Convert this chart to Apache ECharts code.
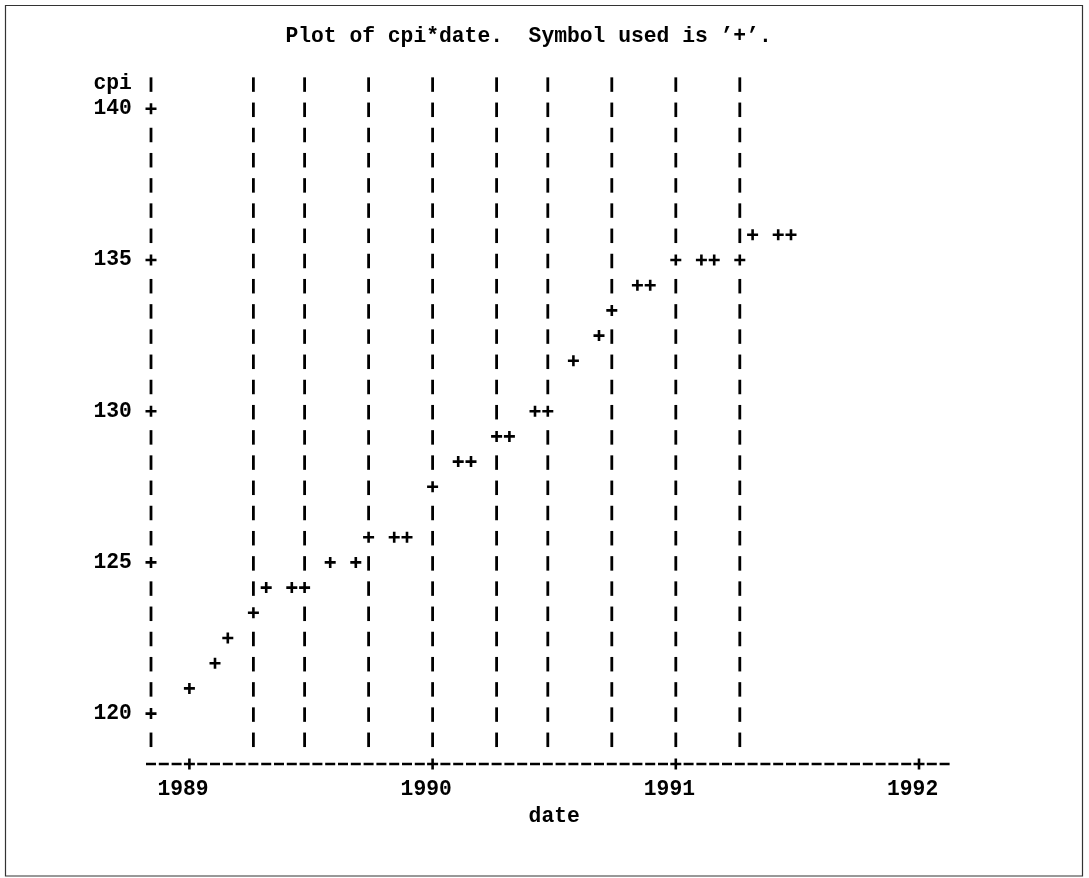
<!DOCTYPE html>
<html>
<head>
<meta charset="utf-8">
<script src="https://cdn.jsdelivr.net/npm/echarts@6/dist/echarts.min.js"></script>
<style>
  html, body { margin: 0; padding: 0; background: #fff; }
  #chart { width: 1089px; height: 878px; }
</style>
</head>
<body>
<div id="chart"></div>
<script>
// Monthly consumer price index
const months = [
  '1989-01', '1989-02', '1989-03', '1989-04', '1989-05', '1989-06',
  '1989-07', '1989-08', '1989-09', '1989-10', '1989-11', '1989-12',
  '1990-01', '1990-02', '1990-03', '1990-04', '1990-05', '1990-06',
  '1990-07', '1990-08', '1990-09', '1990-10', '1990-11', '1990-12',
  '1991-01', '1991-02', '1991-03', '1991-04', '1991-05', '1991-06',
  '1991-07'
];
const cpi = [
  121.1, 121.6, 122.3, 123.1, 123.8, 124.1,
  124.4, 124.6, 125.0, 125.6, 125.9, 126.1,
  127.4, 128.0, 128.7, 128.9, 129.2, 129.9,
  130.4, 131.6, 132.7, 133.5, 133.8, 133.8,
  134.6, 134.8, 135.0, 135.2, 135.6, 136.0,
  136.2
];
// Quarterly reference lines
const refDates = [
  '1989-04', '1989-07', '1989-10', '1990-01', '1990-04',
  '1990-07', '1990-10', '1991-01', '1991-04'
];
const yearTicks = [1989, 1990, 1991, 1992];
const cpiTicks = [120, 125, 130, 135, 140];

// Line-printer character grid: 19 columns per year, one line per 5/6 cpi
const COLS_PER_YEAR = 19;
const LINES_PER_UNIT = 6 / 5;
const X0 = 1989 - 3 / COLS_PER_YEAR;          // first column of the plot
const NCOLS = 62;                              // last column index
const Y0 = 120;                                // line of the lowest tick
const LINE_MIN = -2, LINE_MAX = 25;            // axis line .. label line
const X_MAX = X0 + NCOLS / COLS_PER_YEAR;
const Y_MIN = Y0 + LINE_MIN / LINES_PER_UNIT;
const Y_MAX = Y0 + LINE_MAX / LINES_PER_UNIT;

const FONT = 'Liberation Mono';
const FS = 21.33;
const CW = 12.8;   // character width in px
const LH = 25.2;   // line height in px

function decimalYear(s) {
  const [y, m, d] = s.split('-').map(Number);
  const t = Date.UTC(y, m - 1, d || 1);
  const a = Date.UTC(y, 0, 1), b = Date.UTC(y + 1, 0, 1);
  return y + (t - a) / (b - a);
}
const colOf = t => Math.round((t - X0) * COLS_PER_YEAR);
const lineOf = v => Math.round((v - Y0) * LINES_PER_UNIT);
const xOfCol = c => X0 + c / COLS_PER_YEAR;
const yOfLine = k => Y0 + k / LINES_PER_UNIT;

// plotted points, snapped to character cells
const occupied = new Set();
const pointData = months.map((m, i) => {
  const c = colOf(decimalYear(m)), k = lineOf(cpi[i]);
  occupied.add(c + ':' + k);
  return [xOfCol(c), yOfLine(k)];
});

// reference line glyphs
const refData = [];
refDates.forEach(d => {
  const c = colOf(decimalYear(d));
  for (let k = LINE_MIN + 1; k <= LINE_MAX; k++) {
    if (!occupied.has(c + ':' + k)) refData.push([xOfCol(c), yOfLine(k)]);
  }
});

// vertical axis glyphs
const tickLines = new Set(cpiTicks.map(lineOf));
const vBars = [], vPlus = [];
for (let k = LINE_MIN + 1; k <= LINE_MAX; k++) {
  (tickLines.has(k) ? vPlus : vBars).push([xOfCol(0), yOfLine(k)]);
}
// horizontal axis glyphs
const tickCols = new Set(yearTicks.map(colOf));
const hDash = [], hPlus = [];
for (let c = 0; c <= NCOLS; c++) {
  (tickCols.has(c) ? hPlus : hDash).push([xOfCol(c), yOfLine(LINE_MIN)]);
}

const PLUS = 'path://M4.2,0H6.8V11H4.2Z M0,4.2H11V6.8H0Z';
const glyph = (data, symbol, size, offset) => ({
  type: 'scatter', data, symbol, symbolSize: size, symbolOffset: offset || [0, 0],
  itemStyle: { color: '#000', opacity: 1 }, silent: true, clip: false, z: 3
});

const gridBottomY = 764;
const chart = echarts.init(document.getElementById('chart'), null, { renderer: 'canvas' });
chart.setOption({
  animation: false,
  backgroundColor: '#fff',
  title: {
    text: 'Plot of cpi*date.  Symbol used is ’+’.',
    left: 151 + 11 * CW - CW / 2, top: 26, padding: 0,
    textStyle: { fontFamily: FONT, fontWeight: 'bold', fontSize: FS, color: '#000', lineHeight: 22 }
  },
  graphic: [{
    type: 'rect', silent: true,
    shape: { x: 5.5, y: 5.5, width: 1077, height: 870.5 },
    style: { fill: 'none', stroke: '#333', lineWidth: 1.2 }
  }],
  grid: {
    left: 151, right: 1089 - (151 + NCOLS * CW),
    top: gridBottomY - (LINE_MAX - LINE_MIN) * LH, bottom: 878 - gridBottomY
  },
  xAxis: {
    type: 'value', min: X0, max: X_MAX,
    name: 'date', nameLocation: 'middle', nameGap: 52,
    nameTextStyle: { fontFamily: FONT, fontWeight: 'bold', fontSize: FS, color: '#000',
                     lineHeight: 22, verticalAlign: 'middle', padding: [0, 0, 0, CW] },
    axisLine: { show: false }, axisTick: { show: false }, splitLine: { show: false },
    axisLabel: {
      customValues: yearTicks, showMinLabel: true, showMaxLabel: true,
      formatter: v => String(Math.round(v)),
      fontFamily: FONT, fontWeight: 'bold', fontSize: FS, color: '#000',
      lineHeight: 22, verticalAlign: 'middle', margin: 26, padding: [0, CW, 0, 0]
    }
  },
  yAxis: {
    type: 'value', min: Y_MIN, max: Y_MAX,
    axisLine: { show: false }, axisTick: { show: false }, splitLine: { show: false },
    axisLabel: {
      customValues: cpiTicks.concat([Y_MAX]), showMinLabel: true, showMaxLabel: true,
      formatter: v => (v > 140.5 ? 'cpi' : String(Math.round(v))),
      fontFamily: FONT, fontWeight: 'bold', fontSize: FS, color: '#000',
      lineHeight: 22, align: 'right', verticalAlign: 'middle', margin: 1.5 * CW
    }
  },
  series: [
    glyph(refData, 'rect', [2.8, 14.5], [0, 1]),
    glyph(vBars, 'rect', [2.8, 14.5], [0, 1]),
    glyph(vPlus, PLUS, [11, 11]),
    glyph(hDash, 'rect', [10, 2.5]),
    glyph(hPlus, PLUS, [11, 11]),
    glyph(pointData, PLUS, [11, 11])
  ]
});
</script>
</body>
</html>
